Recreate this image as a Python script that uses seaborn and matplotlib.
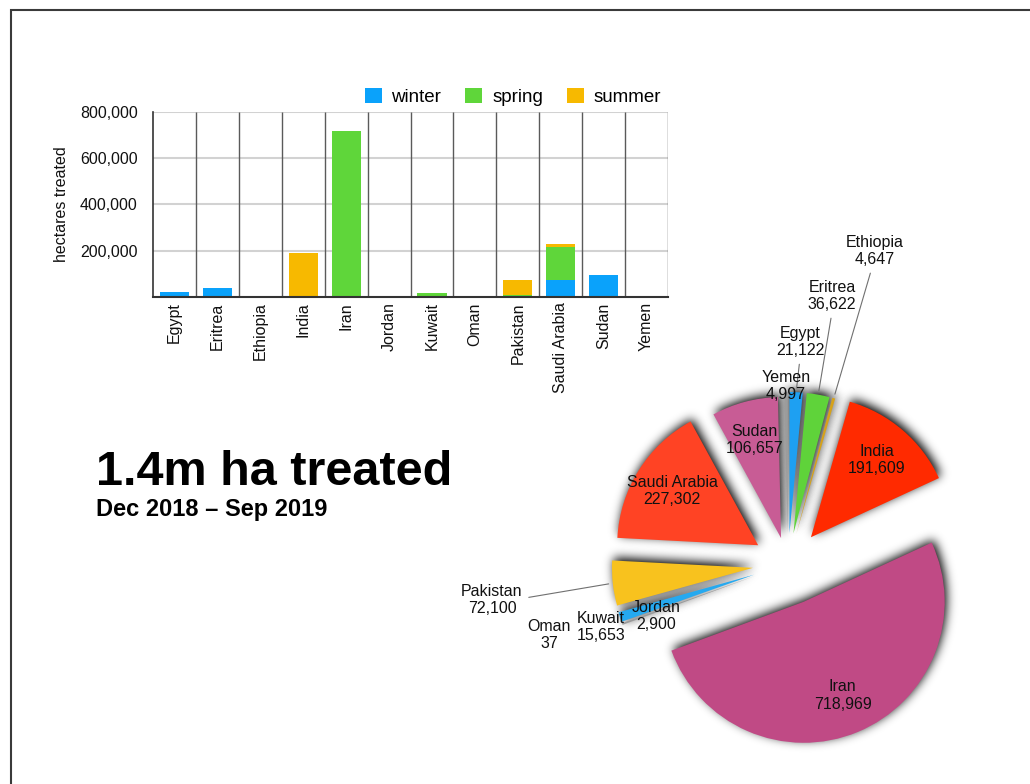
import matplotlib
matplotlib.use("Agg")
import matplotlib.pyplot as plt
import seaborn as sns
import numpy as np
import pandas as pd
from matplotlib.patches import Patch, Rectangle
from matplotlib.ticker import FuncFormatter

# ---------------- data ----------------
countries = ["Egypt", "Eritrea", "Ethiopia", "India", "Iran", "Jordan",
             "Kuwait", "Oman", "Pakistan", "Saudi Arabia", "Sudan", "Yemen"]
winter = [21122, 36622, 4647, 0, 0, 0, 0, 0, 0, 72000, 95000, 4997]
spring = [0, 0, 0, 0, 718969, 2900, 15653, 37, 8000, 142000, 0, 0]
summer = [0, 0, 0, 191609, 0, 0, 0, 0, 64100, 13302, 0, 0]
season_names = ["winter", "spring", "summer"]
season_colors = ["#0aa2fb", "#5fd63a", "#f7b900"]

pie_values = [21122, 36622, 4647, 191609, 718969, 2900,
              15653, 37, 72100, 227302, 106657, 4997]
pie_colors = ["#1ea0f2", "#5fd33a", "#d6a21a", "#ff2a00", "#c04a85", "#9a9a9a",
              "#25a9f0", "#9a9a9a", "#f8c21e", "#ff4324", "#c85c95", "#9c9c9c"]

ytick_values = [200000, 400000, 600000, 800000]
title = "1.4m ha treated"
subtitle = "Dec 2018 \u2013 Sep 2019"
y_label = "hectares treated"

# ---------------- layout / styling ----------------
pie_explode = [0.22, 0.22, 0.22, 0.25, 0.29, 0.25, 0.25, 0.25, 0.25, 0.25, 0.19, 0.22]
inside_labels = ["India", "Iran", "Saudi Arabia", "Sudan"]
# outside label anchor positions (pixels) and leader-line start (relative to text box)
outside_labels = {
    "Ethiopia": ((875, 251), (0.45, 0.0)),
    "Eritrea": ((832, 296), (0.5, 0.0)),
    "Egypt": ((800, 342), (0.5, 0.0)),
    "Yemen": ((786, 386), None),
    "Pakistan": ((492, 600), (1.0, 0.55)),
    "Oman": ((549, 635), None),
    "Kuwait": ((601, 627), None),
    "Jordan": ((656, 616), None),
}

sns.set_theme(style="white")
plt.rcParams['font.family'] = ['Liberation Sans', 'DejaVu Sans']
plt.rcParams['text.color'] = '#000000'

W, H = 1030, 784
fig = plt.figure(figsize=(W / 100, H / 100), dpi=100)

# slide frame
fig.add_artist(Rectangle((11 / W, -0.1), 1.2, 1.1 - 10 / H, transform=fig.transFigure,
                         fill=False, edgecolor="#3a3a3a", lw=1.5))

# ---------------- bar chart ----------------
axb = fig.add_axes([153 / W, 1 - 296.7 / H, 515 / W, 184.4 / H])
df = pd.DataFrame({"country": countries, "winter": winter,
                   "spring": spring, "summer": summer})
cum_ws = df["winter"] + df["spring"]
cum_all = cum_ws + df["summer"]
for vals, color in [(cum_all, season_colors[2]), (cum_ws, season_colors[1]),
                    (df["winter"], season_colors[0])]:
    sns.barplot(x=df["country"], y=vals, order=countries, color=color, saturation=1,
                width=0.68, errorbar=None, ax=axb, linewidth=0, edgecolor="none")

axb.set_xlim(-0.5, len(countries) - 0.5)
axb.set_ylim(0, 800000)
axb.set_yticks(ytick_values)
axb.yaxis.set_major_formatter(FuncFormatter(lambda v, p: f"{int(v):,}"))
axb.grid(axis="y", color="#d2d2d2", lw=1.5)
axb.grid(axis="x", visible=False)
axb.set_axisbelow(True)
axb.vlines(np.arange(0.5, len(countries), 1), 0, 800000, color="#5a5a5a", lw=1.0, zorder=0.8)
axb.tick_params(axis="y", length=0, pad=11, labelsize=11.5, labelcolor="#111")
axb.tick_params(axis="x", length=0, pad=4, labelsize=11.5, labelcolor="#111", rotation=90)
axb.set_xlabel("")
axb.set_ylabel(y_label, fontsize=11.5, color="#111")
axb.yaxis.set_label_coords(-0.163, 0.5)
for s in ["top", "right"]:
    axb.spines[s].set_visible(False)
axb.spines["left"].set_color("#333")
axb.spines["left"].set_linewidth(1.2)
axb.spines["bottom"].set_color("#333")
axb.spines["bottom"].set_linewidth(1.5)

handles = [Patch(facecolor=c, edgecolor="none", label=n) for n, c in zip(season_names, season_colors)]
fig.legend(handles=handles, loc="center", bbox_to_anchor=(513 / W, 1 - 97 / H), ncol=3,
           frameon=False, fontsize=13.5, handlelength=0.9, handleheight=0.9,
           handletextpad=0.53, columnspacing=1.28)

# ---------------- title ----------------
fig.text(96 / W, 1 - 485 / H, title, fontsize=35, fontweight="bold", ha="left",
         va="baseline", color="black")
fig.text(96 / W, 1 - 516 / H, subtitle, fontsize=17, fontweight="bold", ha="left",
         va="baseline", color="black")


# ---------------- soft drop shadow filter ----------------
def _blur(a, sigma):
    r = int(3 * sigma)
    k = np.exp(-0.5 * (np.arange(-r, r + 1) / sigma) ** 2)
    k /= k.sum()
    a = np.apply_along_axis(lambda v: np.convolve(v, k, mode="same"), 0, a)
    a = np.apply_along_axis(lambda v: np.convolve(v, k, mode="same"), 1, a)
    return a


class ShadowFilter:
    def __init__(self, sigma=4.0, alpha=0.8, offset=(2, 2)):
        self.sigma, self.alpha, self.offset = sigma, alpha, offset

    def __call__(self, im, dpi):
        pad = int(3 * self.sigma) + 5
        a = np.pad(im[:, :, 3], pad)
        a = _blur(a, self.sigma) * self.alpha
        a = np.roll(a, self.offset[0], axis=1)
        a = np.roll(a, -self.offset[1], axis=0)
        out = np.zeros(a.shape + (4,), dtype=float)
        out[:, :, 3] = np.clip(a, 0, 1)
        return out, -pad, -pad


# ---------------- pie chart ----------------
CX, CY, R = 788, 564, 141  # pixel centre and radius
axp = fig.add_axes([0, 0, 1, 1])


def px(x, y):
    return (x - CX) / R, (CY - y) / R


n = len(pie_values)
shadow_wedges, _ = axp.pie(pie_values, explode=pie_explode, startangle=90, counterclock=False,
                           colors=["black"] * n, wedgeprops=dict(linewidth=0))
for sw in shadow_wedges:
    sw.set_agg_filter(ShadowFilter(sigma=5.0, alpha=1.0, offset=(2, 3)))
wedges, _ = axp.pie(pie_values, explode=pie_explode, startangle=90, counterclock=False,
                    colors=pie_colors, wedgeprops=dict(linewidth=0))

for w, name, val in zip(wedges, countries, pie_values):
    mid = np.deg2rad((w.theta1 + w.theta2) / 2)
    cx, cy = w.center
    txt = f"{name}\n{val:,}"
    if name in inside_labels:
        axp.text(cx + 0.72 * w.r * np.cos(mid), cy + 0.72 * w.r * np.sin(mid), txt,
                 ha="center", va="center", fontsize=11.5, color="#111", zorder=5)
    else:
        (lx, ly), rel = outside_labels[name]
        pos = px(lx, ly)
        if rel is None:
            axp.text(pos[0], pos[1], txt, ha="center", va="center", fontsize=11.5,
                     color="#111", zorder=5)
        else:
            tip = (cx + w.r * np.cos(mid), cy + w.r * np.sin(mid))
            axp.annotate(txt, xy=tip, xytext=pos, textcoords="data", ha="center",
                         va="center", fontsize=11.5, color="#111", zorder=5,
                         arrowprops=dict(arrowstyle="-", color="#707070", lw=0.8,
                                         shrinkA=2, shrinkB=3, relpos=rel))

axp.set_aspect("auto")
axp.set_xlim(-CX / R, (W - CX) / R)
axp.set_ylim((CY - H) / R, CY / R)
axp.axis("off")

fig.savefig("out.png", dpi=100)
